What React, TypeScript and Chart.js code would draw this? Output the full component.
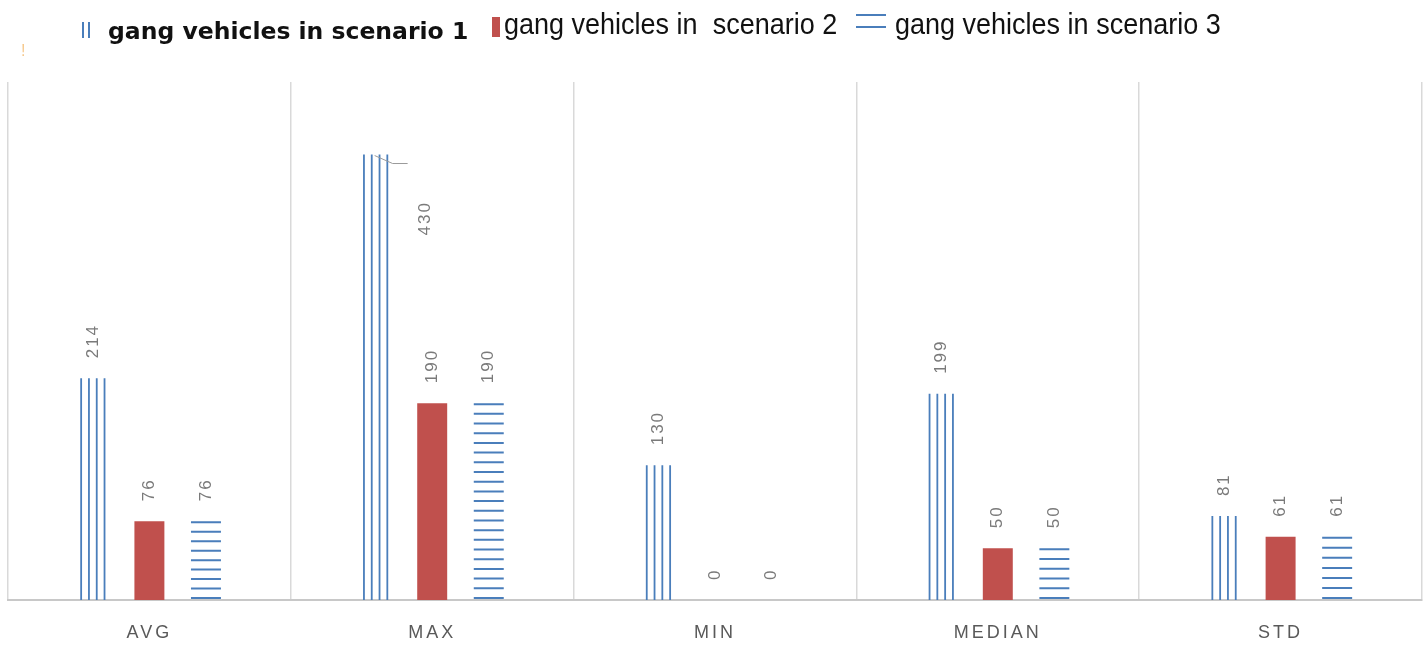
import React, { useEffect, useRef } from "react";
import { Chart, registerables } from "chart.js";

Chart.register(...registerables);

const categories = ["AVG", "MAX", "MIN", "MEDIAN", "STD"];
const scenario1 = [214, 430, 130, 199, 81];
const scenario2 = [76, 190, 0, 50, 61];
const scenario3 = [76, 190, 0, 50, 61];
const seriesNames = [
  "gang vehicles in scenario 1",
  "gang vehicles in  scenario 2",
  "gang vehicles in scenario 3",
];

const BLUE = "#4a7ebb";
const RED = "#c0504d";
const LABEL_GRAY = "#7a7a7a";

const patternPlugin = {
  id: "patternBars",
  afterDatasetsDraw(chart: any) {
    const ctx = chart.ctx as CanvasRenderingContext2D;
    ctx.save();
    ctx.strokeStyle = BLUE;
    // scenario 1: vertical lines
    ctx.lineWidth = 1.8;
    chart.getDatasetMeta(0).data.forEach((bar: any) => {
      const p = bar.getProps(["x", "y", "base", "width"], true);
      if (p.base - p.y < 1) return;
      const w = p.width * 0.84;
      const left = p.x - w / 2;
      ctx.beginPath();
      for (let i = 0; i < 4; i++) {
        const lx = left + 0.9 + (i * (w - 1.8)) / 3;
        ctx.moveTo(lx, p.y);
        ctx.lineTo(lx, p.base);
      }
      ctx.stroke();
    });
    // scenario 3: horizontal lines, evenly spread from bar top to baseline
    ctx.lineWidth = 2;
    chart.getDatasetMeta(2).data.forEach((bar: any) => {
      const p = bar.getProps(["x", "y", "base", "width"], true);
      if (p.base - p.y < 1) return;
      const top = p.y + 1;
      const bottom = p.base - 2;
      const n = Math.max(2, Math.round((bottom - top) / 9.8) + 1);
      const step = (bottom - top) / (n - 1);
      ctx.beginPath();
      for (let k = 0; k < n; k++) {
        const yy = top + k * step;
        ctx.moveTo(p.x - p.width / 2, yy);
        ctx.lineTo(p.x + p.width / 2, yy);
      }
      ctx.stroke();
    });
    ctx.restore();
  },
};

const labelPlugin = {
  id: "rotLabels",
  afterDatasetsDraw(chart: any) {
    const ctx = chart.ctx as CanvasRenderingContext2D;
    ctx.save();
    (ctx as any).letterSpacing = "2px";
    ctx.font = "17px 'Liberation Sans', Arial, sans-serif";
    ctx.fillStyle = LABEL_GRAY;
    ctx.textAlign = "left";
    ctx.textBaseline = "middle";
    chart.data.datasets.forEach((ds: any, di: number) => {
      chart.getDatasetMeta(di).data.forEach((bar: any, i: number) => {
        const p = bar.getProps(["x", "y"], true);
        let ax = p.x;
        let ay = p.y - 20;
        // the tallest label was moved down beside its bar with a leader line
        if (di === 0 && i === 1) {
          ax = p.x + 50;
          ay = p.y + 81;
          ctx.save();
          ctx.strokeStyle = "#9a9a9a";
          ctx.lineWidth = 1;
          ctx.beginPath();
          ctx.moveTo(p.x - 1, p.y + 1);
          ctx.lineTo(p.x + 17, p.y + 9);
          ctx.lineTo(p.x + 32, p.y + 9);
          ctx.stroke();
          ctx.restore();
        }
        ctx.save();
        ctx.translate(ax, ay);
        ctx.rotate(-Math.PI / 2);
        ctx.fillText(String(ds.data[i]), 0, 0);
        ctx.restore();
      });
    });
    ctx.restore();
  },
};

const spacingPlugin = {
  id: "tickSpacing",
  beforeDraw(chart: any) {
    (chart.ctx as any).letterSpacing = "3px";
  },
  afterDraw(chart: any) {
    (chart.ctx as any).letterSpacing = "0px";
  },
};

function BarChart() {
  const ref = useRef<HTMLCanvasElement | null>(null);
  useEffect(() => {
    if (!ref.current) return;
    const chart = new Chart(ref.current, {
      type: "bar",
      data: {
        labels: categories,
        datasets: [
          {
            label: seriesNames[0],
            data: scenario1,
            backgroundColor: "rgba(0,0,0,0)",
            borderWidth: 0,
          },
          {
            label: seriesNames[1],
            data: scenario2,
            backgroundColor: RED,
            borderWidth: 0,
          },
          {
            label: seriesNames[2],
            data: scenario3,
            backgroundColor: "rgba(0,0,0,0)",
            borderWidth: 0,
          },
        ],
      },
      options: {
        animation: false,
        responsive: true,
        maintainAspectRatio: false,
        datasets: { bar: { categoryPercentage: 0.6, barPercentage: 0.53 } },
        layout: { padding: { left: 8, right: 5, top: 82, bottom: 4 } },
        plugins: { legend: { display: false }, tooltip: { enabled: false } },
        scales: {
          x: {
            grid: { color: "#d9d9d9", lineWidth: 1.5, drawTicks: false, offset: true },
            border: { color: "#c8c8c8", width: 2 },
            ticks: {
              color: "#595959",
              padding: 22,
              font: { family: "'Liberation Sans', Arial, sans-serif", size: 18 },
            },
            afterFit(scale: any) {
              scale.height = 44;
            },
          },
          y: { display: false, min: 0, max: 500 },
        },
      },
      plugins: [spacingPlugin, patternPlugin, labelPlugin],
    });
    return () => chart.destroy();
  }, []);
  return <canvas ref={ref} />;
}

export default function App() {
  const narrow: React.CSSProperties = {
    position: "absolute",
    fontFamily: "'Liberation Sans', Arial, sans-serif",
    fontSize: 30,
    lineHeight: "30px",
    color: "#111",
    whiteSpace: "pre",
    transform: "scaleX(0.9)",
    transformOrigin: "left top",
  };
  return (
    <div
      style={{
        position: "absolute",
        left: 0,
        top: 0,
        width: 1427,
        height: 648,
        background: "#fff",
        overflow: "hidden",
      }}
    >
      <div style={{ position: "absolute", left: 0, top: 0, width: 1427, height: 648 }}>
        <BarChart />
      </div>
      {/* legend */}
      <div style={{ position: "absolute", left: 82, top: 22, width: 1.5, height: 16, background: BLUE }} />
      <div style={{ position: "absolute", left: 88, top: 22, width: 1.5, height: 16, background: BLUE }} />
      <div
        style={{
          position: "absolute",
          left: 108,
          top: 19,
          fontFamily: "'DejaVu Sans', sans-serif",
          fontWeight: "bold",
          fontSize: 23.5,
          lineHeight: "24px",
          color: "#111",
          whiteSpace: "pre",
        }}
      >
        {seriesNames[0]}
      </div>
      <div style={{ position: "absolute", left: 492, top: 17, width: 8, height: 20, background: RED }} />
      <div style={{ ...narrow, left: 504, top: 9 }}>{seriesNames[1]}</div>
      <div style={{ position: "absolute", left: 856, top: 14, width: 30, height: 2, background: BLUE }} />
      <div style={{ position: "absolute", left: 856, top: 26, width: 30, height: 2, background: BLUE }} />
      <div style={{ ...narrow, left: 895, top: 9 }}>{seriesNames[2]}</div>
      <div
        style={{
          position: "absolute",
          left: 21,
          top: 42,
          fontFamily: "'Liberation Sans', sans-serif",
          fontSize: 16,
          lineHeight: "18px",
          color: "#f2b15a",
          opacity: 0.7,
        }}
      >
        !
      </div>
    </div>
  );
}
